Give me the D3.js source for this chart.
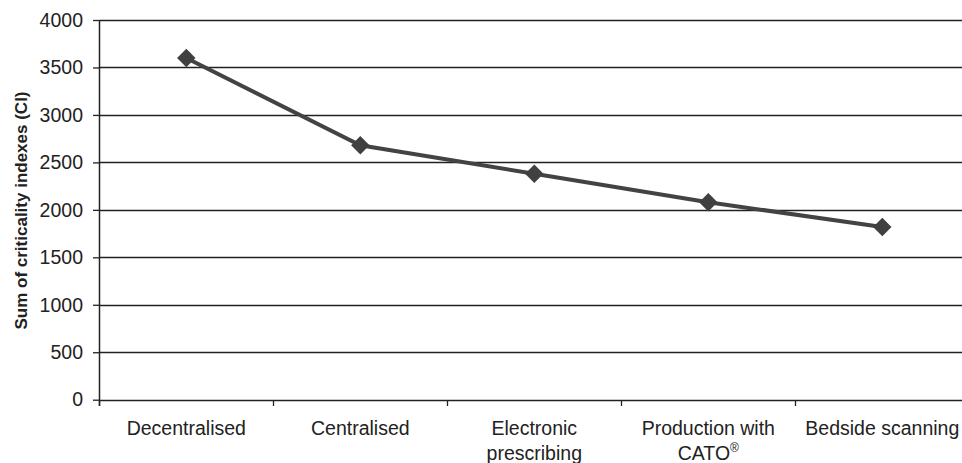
<!DOCTYPE html>
<html>
<head>
<meta charset="utf-8">
<script src="https://cdn.jsdelivr.net/npm/d3@7"></script>
<style>
  html, body { margin: 0; padding: 0; background: #fff; }
  svg { display: block; }
  text { font-family: "Liberation Sans", Arial, sans-serif; fill: #222; }
</style>
</head>
<body>
<svg id="chart" width="962" height="463"></svg>
<script>
const categories = ["Decentralised", "Centralised", "Electronic prescribing", "Production with CATO®", "Bedside scanning"];
const categoryLines = [["Decentralised"], ["Centralised"], ["Electronic", "prescribing"], ["Production with", "CATO"], ["Bedside scanning"]];
const superscripts = ["", "", "", "®", ""];
const values = [3600, 2680, 2380, 2080, 1820];
const yTicks = [0, 500, 1000, 1500, 2000, 2500, 3000, 3500, 4000];
const yTitle = "Sum of criticality indexes (CI)";

const W = 962, H = 463;
const svg = d3.select("#chart");

const x = d3.scaleBand().domain(categories).range([99.3, 969.3]).padding(0);
const y = d3.scaleLinear().domain([0, 4000]).range([399.7, 20]);

// gridlines
svg.append("g").selectAll("line").data(yTicks).join("line")
  .attr("x1", 100).attr("x2", W)
  .attr("y1", d => Math.round(y(d)) + 0.5).attr("y2", d => Math.round(y(d)) + 0.5)
  .attr("stroke", "#222").attr("stroke-width", 1.3);

// y axis
const yAxis = d3.axisLeft(y).tickValues(yTicks).tickSize(7).tickPadding(10).tickFormat(d3.format("d"));
const gy = svg.append("g").attr("transform", "translate(100,0)").call(yAxis);
gy.select(".domain").remove();
gy.append("line").attr("x1", -0.5).attr("x2", -0.5).attr("y1", y(4000)).attr("y2", 406)
  .attr("stroke", "#222").attr("stroke-width", 1.5);
gy.selectAll(".tick line").attr("stroke", "#222").attr("stroke-width", 1.3);
gy.selectAll(".tick text").style("font-size", "19.5px").attr("fill", "#222")
  .style("font-family", "'Liberation Sans', Arial, sans-serif");

// x axis ticks (category boundaries)
const bounds = categories.map(c => x(c));
svg.append("g").selectAll("line").data(bounds).join("line")
  .attr("x1", d => Math.round(d) + 0.5).attr("x2", d => Math.round(d) + 0.5)
  .attr("y1", 400).attr("y2", 406)
  .attr("stroke", "#222").attr("stroke-width", 1.3);

// x labels
const lab = svg.append("g").selectAll("text").data(categories).join("text")
  .attr("text-anchor", "middle")
  .style("font-size", "19.5px")
  .attr("transform", d => `translate(${x(d) + x.bandwidth() / 2},435)`);
lab.each(function(d, i) {
  const t = d3.select(this);
  categoryLines[i].forEach((ln, j) => {
    t.append("tspan").attr("x", 0).attr("y", j * 25).text(ln);
    if (j === categoryLines[i].length - 1 && superscripts[i]) {
      t.append("tspan").attr("dy", -8).style("font-size", "12px").text(superscripts[i]);
    }
  });
});

// y title
svg.append("text")
  .attr("transform", `translate(26.5,210.5) rotate(-90)`)
  .attr("text-anchor", "middle")
  .style("font-size", "17px").style("font-weight", "bold")
  .text(yTitle);

// line
const line = d3.line().x((d, i) => x(categories[i]) + x.bandwidth() / 2).y(d => y(d));
svg.append("path").datum(values)
  .attr("d", line).attr("fill", "none")
  .attr("stroke", "#434343").attr("stroke-width", 4);

// markers
svg.append("g").selectAll("path").data(values).join("path")
  .attr("d", d3.symbol().type(d3.symbolSquare).size(170))
  .attr("transform", (d, i) => `translate(${x(categories[i]) + x.bandwidth() / 2},${y(d)}) rotate(45)`)
  .attr("fill", "#404040");
</script>
</body>
</html>
